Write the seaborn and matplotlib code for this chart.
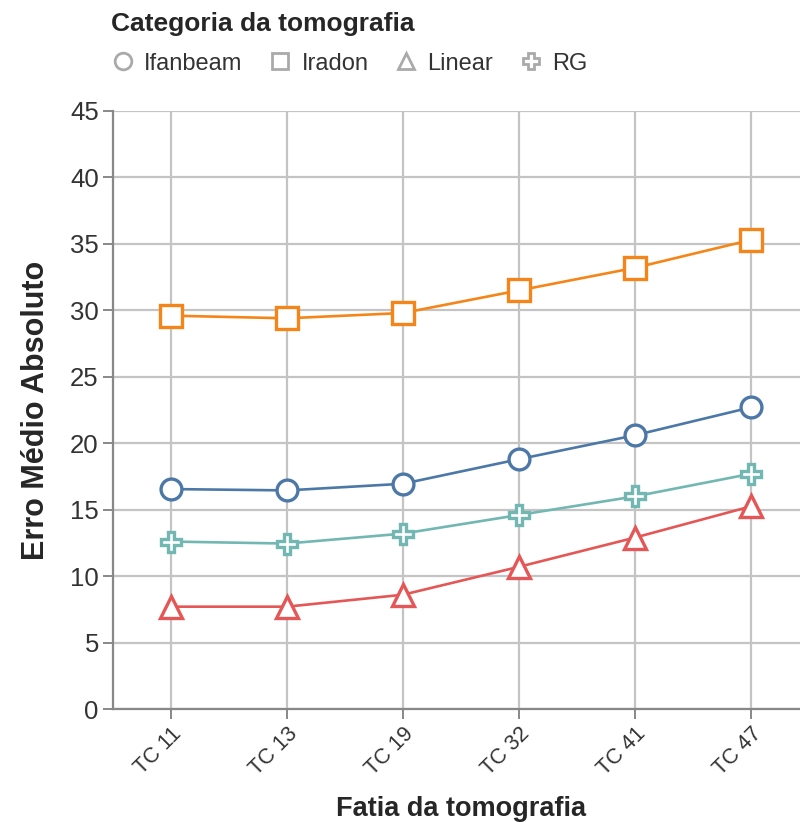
import pandas as pd
import matplotlib
matplotlib.use('Agg')
import matplotlib.pyplot as plt
import seaborn as sns
from matplotlib.lines import Line2D

sns.set_style('white')
plt.rcParams['font.family'] = ['Liberation Sans', 'DejaVu Sans']

# Data
fatias = ['TC 11', 'TC 13', 'TC 19', 'TC 32', 'TC 41', 'TC 47']
categorias = ['Ifanbeam', 'Iradon', 'Linear', 'RG']
ifanbeam = [16.55, 16.45, 16.95, 18.8, 20.6, 22.7]
iradon = [29.6, 29.4, 29.8, 31.5, 33.2, 35.3]
linear = [7.7, 7.7, 8.6, 10.7, 12.9, 15.25]
rg = [12.6, 12.45, 13.2, 14.6, 16.0, 17.7]

cores = {'Ifanbeam': '#4c78a8', 'Iradon': '#f58518', 'Linear': '#e45756', 'RG': '#72b7b2'}
marcadores = {'Ifanbeam': 'o', 'Iradon': 's', 'Linear': '^', 'RG': 'P'}
tamanhos = {'Ifanbeam': 15, 'Iradon': 15.5, 'Linear': 16, 'RG': 15}

df = pd.DataFrame({
    'Fatia': fatias * 4,
    'Categoria': sum([[c] * len(fatias) for c in categorias], []),
    'Erro': ifanbeam + iradon + linear + rg,
})

fig = plt.figure(figsize=(8, 8.22), dpi=100)
ax = fig.add_axes([113 / 800, 1 - 709 / 822, 696 / 800, 598 / 822])

for cat in categorias:
    sub = df[df['Categoria'] == cat]
    sns.lineplot(data=sub, x='Fatia', y='Erro', ax=ax, color=cores[cat],
                 marker=marcadores[cat], markersize=tamanhos[cat],
                 markerfacecolor='white', markeredgecolor=cores[cat],
                 markeredgewidth=2.4, linewidth=1.9, sort=False, zorder=3)

ax.set_xlim(-0.5, len(fatias) - 0.5)
ax.set_ylim(0, 45)
ax.set_yticks(range(0, 46, 5))
ax.grid(True, color='#c4c4c4', linewidth=1.6)
ax.set_axisbelow(True)
for s in ['top', 'right']:
    ax.spines[s].set_visible(False)
for s in ['left', 'bottom']:
    ax.spines[s].set_color('#888888')
    ax.spines[s].set_linewidth(1.6)
ax.tick_params(axis='both', which='both', length=7.2, width=1.4, color='#888888',
               direction='out', bottom=True, left=True)
ax.tick_params(axis='y', labelsize=18.5, labelcolor='#333333', pad=3)
ax.tick_params(axis='x', labelsize=15.5, labelcolor='#333333', pad=3)
plt.setp(ax.get_xticklabels(), rotation=45, ha='right', va='top',
         rotation_mode='anchor')

ax.set_xlabel('Fatia da tomografia', fontsize=19.5, fontweight='bold', labelpad=12)
ax.set_ylabel('Erro Médio Absoluto', fontsize=22, fontweight='bold', labelpad=14)

handles = [Line2D([], [], linestyle='none', marker=marcadores[c], markersize=12,
                  markerfacecolor='white', markeredgecolor='#aaaaaa',
                  markeredgewidth=2.0) for c in categorias]
leg = fig.legend(handles, categorias, loc='upper left',
                 bbox_to_anchor=(111 / 800, 1 - 12 / 822), ncol=4, frameon=False,
                 fontsize=17, handletextpad=0.4, columnspacing=1.1,
                 handlelength=1.0, borderpad=0, borderaxespad=0,
                 labelspacing=0.7,
                 title='Categoria da tomografia',
                 title_fontproperties={'weight': 'bold', 'size': 19},
                 alignment='left', labelcolor='#333333')

fig.savefig('out.png', dpi=100)
